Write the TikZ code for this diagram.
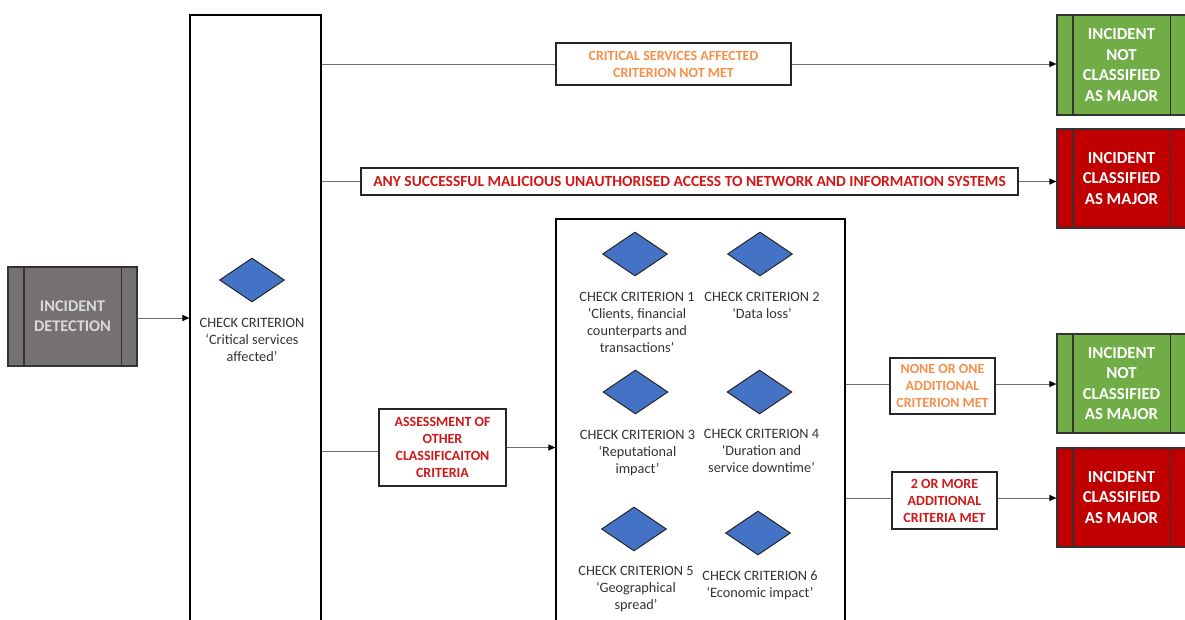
\documentclass[tikz,border=0pt]{standalone}
\usepackage{fontspec}
\setmainfont{Carlito}
\usepackage{xcolor}
\usetikzlibrary{positioning,arrows.meta,shapes.geometric}

\definecolor{okgreen}{HTML}{70AD47}
\definecolor{majred}{HTML}{C00000}
\definecolor{diablue}{HTML}{4472C4}
\definecolor{txtorange}{HTML}{F4904A}
\definecolor{txtred}{HTML}{D01818}
\definecolor{detgray}{HTML}{767171}
\definecolor{linegray}{HTML}{6E6E6E}

\begin{document}
\begin{tikzpicture}[x=1pt,y=-1pt,
		outcome/.style={draw=black!80,line width=1.2pt,minimum width=129pt,minimum height=99pt,inner sep=0pt,align=center,text=white,font=\fontsize{16.8}{20.5}\selectfont\bfseries},
		label/.style={draw=black!85,line width=1.2pt,fill=white,inner sep=0pt,align=center,font=\fontsize{14}{17}\selectfont\bfseries},
		frame/.style={draw=black,line width=1.2pt,inner sep=0pt},
		check/.style={diamond,draw=black!85,fill=diablue,line width=1pt,minimum width=65pt,minimum height=44pt,inner sep=0pt},
		crit/.style={align=center,inner sep=0pt,font=\fontsize{14.3}{17}\selectfont,text=black!80},
		link/.style={linegray,line width=0.9pt},
		arrow/.style={link,-{Triangle[length=7pt,width=6pt,black]}}
		]
		\useasboundingbox (0,0) rectangle (1185,619);
		
		% detection and first check
		\node[outcome,fill=detgray,text=black!15,font=\fontsize{16.3}{20}\selectfont\bfseries] (det) at (72.5,316.5) {INCIDENT\\DETECTION};
		\node[frame,minimum width=131pt,minimum height=612pt] (main) at (255.5,321) {};
		\node[check] (c0) at (252,280) {};
		\node[crit,below=16pt of c0] (t0) {CHECK CRITERION\\‘Critical services\\affected’};
		
		% other criteria
		\node[frame,minimum width=289pt,minimum height=410pt] (crit) at (700.5,424) {};
		\node[check] (c1) at (635,254) {};
		\node[check] (c2) at (760,254) {};
		\node[check] (c3) at (635.5,392) {};
		\node[check] (c4) at (759.5,392) {};
		\node[check] (c5) at (634,529) {};
		\node[check] (c6) at (758,533) {};
		\node[crit,below=16pt of c1,xshift=2pt] (t1) {CHECK CRITERION 1\\‘Clients, financial\\counterparts and\\transactions’};
		\node[crit,below=16pt of c2,xshift=2pt] (t2) {CHECK CRITERION 2\\‘Data loss’};
		\node[crit,below=16pt of c3,xshift=2pt] (t3) {CHECK CRITERION 3\\‘Reputational\\impact’};
		\node[crit,below=15pt of c4,xshift=2pt] (t4) {CHECK CRITERION 4\\‘Duration and\\service downtime’};
		\node[crit,below=15pt of c5,xshift=2pt] (t5) {CHECK CRITERION 5\\‘Geographical\\spread’};
		\node[crit,below=15pt of c6,xshift=2pt] (t6) {CHECK CRITERION 6\\‘Economic impact’};
		
		% labels on the connectors
		\node[label,text=txtorange,minimum width=235pt,minimum height=42pt] (l1) at (673.5,64) {CRITICAL SERVICES AFFECTED\\CRITERION NOT MET};
		\node[label,text=txtred,minimum width=657pt,minimum height=27pt,font=\fontsize{15.5}{17}\selectfont\bfseries] (l2) at (689.5,181.5) {ANY SUCCESSFUL MALICIOUS UNAUTHORISED ACCESS TO NETWORK AND INFORMATION SYSTEMS};
		\node[label,text=txtred,minimum width=127pt,minimum height=77pt] (l3) at (442.5,447.5) {ASSESSMENT OF\\OTHER\\CLASSIFICAITON\\CRITERIA};
		\node[label,text=txtorange,minimum width=105pt,minimum height=56pt] (l4) at (942.5,386) {NONE OR ONE\\ADDITIONAL\\CRITERION MET};
		\node[label,text=txtred,minimum width=105pt,minimum height=57pt] (l5) at (944.5,500.5) {2 OR MORE\\ADDITIONAL\\CRITERIA MET};
		
		% outcomes
		\node[outcome,fill=okgreen,minimum height=100pt] (ok1) at (1121.5,65) {INCIDENT\\NOT\\CLASSIFIED\\AS MAJOR};
		\node[outcome,fill=majred] (maj1) at (1121.5,178.5) {INCIDENT\\CLASSIFIED\\AS MAJOR};
		\node[outcome,fill=okgreen] (ok2) at (1121.5,383.5) {INCIDENT\\NOT\\CLASSIFIED\\AS MAJOR};
		\node[outcome,fill=majred] (maj2) at (1121.5,497.5) {INCIDENT\\CLASSIFIED\\AS MAJOR};
		\foreach \n in {det,ok1,maj1,ok2,maj2} {
			\draw[black!80,line width=1.2pt] ([xshift=16.5pt]\n.north west) -- ([xshift=16.5pt]\n.south west);
			\draw[black!80,line width=1.2pt] ([xshift=-16.5pt]\n.north east) -- ([xshift=-16.5pt]\n.south east);
		}
		
		% connectors
		\draw[arrow] (det.east |- 0,318) -- (main.west |- 0,318);
		\draw[link] (main.east |- l1) -- (l1.west);
		\draw[arrow] (l1.east) -- (ok1.west |- l1);
		\draw[link] (main.east |- l2) -- (l2.west);
		\draw[arrow] (l2.east) -- (maj1.west |- l2);
		\draw[link] (main.east |- 0,451) -- (l3.west |- 0,451);
		\draw[arrow] (l3.east) -- (crit.west |- l3);
		\draw[link] (crit.east |- 0,384) -- (l4.west |- 0,384);
		\draw[arrow] (l4.east |- 0,384) -- (ok2.west |- 0,384);
		\draw[link] (crit.east |- 0,498) -- (l5.west |- 0,498);
		\draw[arrow] (l5.east |- 0,498) -- (maj2.west |- 0,498);
	\end{tikzpicture}
\end{document}
